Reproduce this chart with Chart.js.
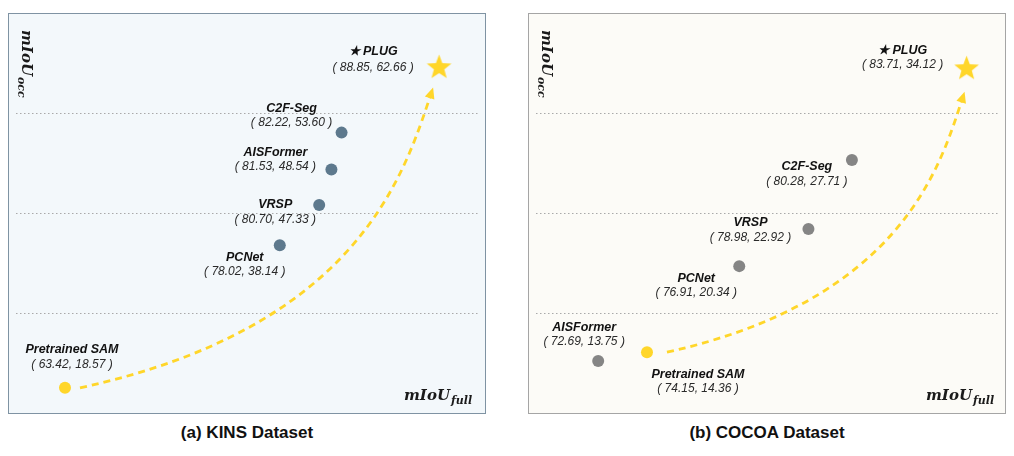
<!DOCTYPE html>
<html>
<head>
<meta charset="utf-8">
<script src="https://cdn.jsdelivr.net/npm/chart.js@4"></script>
<style>
    body { margin: 0; width: 1014px; height: 456px; background: #fff; position: relative; overflow: hidden; }
    .panel { position: absolute; top: 13px; width: 478px; height: 401px; box-sizing: border-box; }
    .panel canvas { position: absolute; left: 0; top: 0; }
    .mlab { position: absolute; font-family: "DejaVu Serif", serif; font-weight: bold; font-style: italic;
            font-size: 15px; line-height: 18px; color: #1a1a1a; white-space: nowrap; }
    .mlab sub { font-size: 11px; vertical-align: -4px; margin-left: 1px; }
    .ylab { transform-origin: left top; transform: rotate(90deg); }
    .caption { position: absolute; top: 423px; width: 478px; text-align: center;
               font-family: "Liberation Sans", Arial, sans-serif; font-weight: bold; font-size: 17px;
               line-height: 20px; color: #111; }
</style>
</head>
<body>
<div class="panel" id="kinsPanel" style="left:8px; background:#f3f8fb; border:1px solid #7f93a3;">
    <canvas id="kinsChart" width="476" height="399"></canvas>
    <div class="mlab ylab" style="left:27px; top:16px;">mIoU<sub>occ</sub></div>
    <div class="mlab" style="left:395px; top:372px;">mIoU<sub>full</sub></div>
</div>
<div class="caption" style="left:8px;">(a) KINS Dataset</div>

<div class="panel" id="cocoaPanel" style="left:528px; background:#fcfbf7; border:1px solid #a5a5a5;">
    <canvas id="cocoaChart" width="476" height="399"></canvas>
    <div class="mlab ylab" style="left:27px; top:16px;">mIoU<sub>occ</sub></div>
    <div class="mlab" style="left:397px; top:372px;">mIoU<sub>full</sub></div>
</div>
<div class="caption" style="left:528px;">(b) COCOA Dataset</div>

<script>
const methods = ['Pretrained SAM', 'PCNet', 'VRSP', 'AISFormer', 'C2F-Seg', 'PLUG'];

// KINS: printed (mIoU_full, mIoU_occ)
const kinsFull = [63.42, 78.02, 80.70, 81.53, 82.22, 88.85];
const kinsOcc = [18.57, 38.14, 47.33, 48.54, 53.60, 62.66];
// the figure draws VRSP lower than its printed value (keeps labels apart)
const kinsOccPlaced = [18.57, 38.14, 43.67, 48.54, 53.60, 62.66];

// COCOA: printed (mIoU_full, mIoU_occ)
const cocoaFull = [74.15, 76.91, 78.98, 72.69, 80.28, 83.71];
const cocoaOcc = [14.36, 20.34, 22.92, 13.75, 27.71, 34.12];

const YELLOW = '#ffd62a';

// filled star used as the PLUG marker
function makeStar(size, color) {
    const c = document.createElement('canvas');
    c.width = size; c.height = size;
    const g = c.getContext('2d');
    const cx = size / 2, cy = size / 2 + 1, R = size / 2 - 0.5, r = R * 0.42;
    g.beginPath();
    for (let i = 0; i < 10; i++) {
        const rad = i % 2 === 0 ? R : r;
        const a = -Math.PI / 2 + i * Math.PI / 5;
        g.lineTo(cx + rad * Math.cos(a), cy + rad * Math.sin(a));
    }
    g.closePath();
    g.fillStyle = color;
    g.fill();
    return c;
}
const star = makeStar(27, YELLOW);

// label placement per point: [dx, name dy, value dy] from the marker centre
const kinsLabelPos = [[7, -38, -23], [-35, 12, 26], [-44, 0, 15], [-56, -17, -3], [-50, -24, -10], [-66, -15, 1]];
const cocoaLabelPos = [[51, 22, 36], [-43, 12, 27], [-58, -6, 9], [-14, -33, -19], [-45, 7, 22], [-64, -17, -3]];

const labelPlugin = {
    id: 'pointLabels',
    beforeDatasetsDraw(chart) {
        const cfg = chart.options.plugins.pointLabels;
        const pts = chart.getDatasetMeta(0).data;
        const a = pts[0], b = pts[5];
        const sx = a.x + cfg.arrow.startGap, sy = a.y;
        const tx = b.x + cfg.arrow.endDx, ty = b.y + cfg.arrow.endDy;
        const dx = tx - sx, dy = ty - sy;
        const c1x = sx + 0.78 * dx, c1y = sy + 0.20 * dy;
        const c2x = sx + 0.915 * dx, c2y = sy + 0.70 * dy;
        // arrow head direction from last control point
        let ux = tx - c2x, uy = ty - c2y;
        const len = Math.hypot(ux, uy);
        ux /= len; uy /= len;
        const hl = 11, hw = 5;
        const bx = tx - ux * hl, by = ty - uy * hl;
        const ctx = chart.ctx;
        ctx.save();
        ctx.strokeStyle = YELLOW;
        ctx.lineWidth = 2.8;
        ctx.setLineDash([7, 5]);
        ctx.beginPath();
        ctx.moveTo(sx, sy);
        ctx.bezierCurveTo(c1x, c1y, c2x, c2y, bx + ux * 2, by + uy * 2);
        ctx.stroke();
        ctx.setLineDash([]);
        ctx.fillStyle = YELLOW;
        ctx.beginPath();
        ctx.moveTo(tx, ty);
        ctx.lineTo(bx - uy * hw, by + ux * hw);
        ctx.lineTo(bx + uy * hw, by - ux * hw);
        ctx.closePath();
        ctx.fill();
        ctx.restore();
    },
    afterDatasetsDraw(chart) {
        const cfg = chart.options.plugins.pointLabels;
        const pts = chart.getDatasetMeta(0).data;
        const ctx = chart.ctx;
        ctx.save();
        ctx.textAlign = 'center';
        ctx.textBaseline = 'middle';
        pts.forEach((p, i) => {
            const [dx, ny, vy] = cfg.pos[i];
            const name = methods[i] === 'PLUG' ? '\u2605 PLUG' : methods[i];
            ctx.font = 'italic bold 12.5px "Liberation Sans", Arial, sans-serif';
            ctx.fillStyle = '#111';
            ctx.fillText(name, p.x + dx, p.y + ny);
            ctx.font = 'italic 12px "Liberation Sans", Arial, sans-serif';
            ctx.fillStyle = '#2a2a2a';
            ctx.fillText('( ' + cfg.full[i].toFixed(2) + ', ' + cfg.occ[i].toFixed(2) + ' )', p.x + dx, p.y + vy);
        });
        ctx.restore();
    }
};

function makeChart(id, full, occPlaced, occ, dotColor, pos, xr, yr, arrow) {
    const points = full.map((x, i) => ({ x: x, y: occPlaced[i] }));
    const colors = methods.map(m => m === 'PLUG' || m === 'Pretrained SAM' ? YELLOW : dotColor);
    const styles = methods.map(m => m === 'PLUG' ? star : 'circle');
    return new Chart(document.getElementById(id), {
        type: 'scatter',
        data: {
            datasets: [{
                data: points,
                pointBackgroundColor: colors,
                pointBorderWidth: 0,
                pointRadius: 6,
                pointStyle: styles,
                clip: false
            }]
        },
        options: {
            responsive: false,
            animation: false,
            events: [],
            layout: { autoPadding: false, padding: { left: 7, right: 5, top: 0, bottom: 0 } },
            scales: {
                x: { min: xr[0], max: xr[1], display: false },
                y: {
                    min: yr[0], max: yr[1],
                    ticks: { display: false },
                    grid: { drawTicks: false, color: '#a9a9a9', lineWidth: 1 },
                    border: { display: false, dash: [1.5, 2.5] },
                    // three dotted guide lines at the quarters of the range
                    afterBuildTicks: s => {
                        s.ticks = [1, 2, 3].map(k => ({ value: s.min + (s.max - s.min) * k / 4 }));
                    }
                }
            },
            plugins: {
                legend: { display: false },
                tooltip: { enabled: false },
                pointLabels: { pos: pos, full: full, occ: occ, arrow: arrow }
            }
        },
        plugins: [labelPlugin]
    });
}

makeChart('kinsChart', kinsFull, kinsOccPlaced, kinsOcc, '#5d798d', kinsLabelPos,
    [60.09, 91.63], [15.12, 69.88], { startGap: 15, endDx: -6, endDy: 21 });
makeChart('cocoaChart', cocoaFull, cocoaOcc, cocoaOcc, '#858585', cocoaLabelPos,
    [70.83, 84.71], [10.14, 37.85], { startGap: 20, endDx: -2, endDy: 24 });
</script>
</body>
</html>
